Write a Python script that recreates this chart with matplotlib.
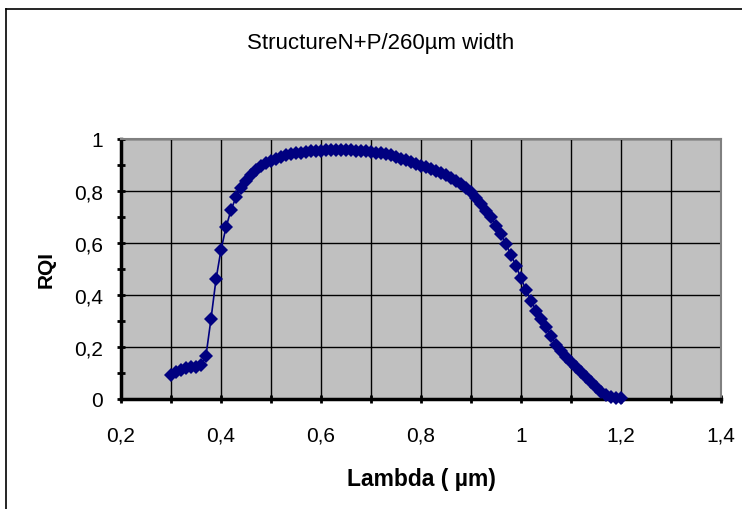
import numpy as np
import matplotlib
matplotlib.use('Agg')
import matplotlib.pyplot as plt
from matplotlib.ticker import MultipleLocator, FuncFormatter
from matplotlib.lines import Line2D

# wavelength (um) and RQI values
lam = [0.30, 0.31, 0.32, 0.33, 0.34, 0.35, 0.36, 0.37, 0.38, 0.39,
       0.40, 0.41, 0.42, 0.43, 0.44, 0.45, 0.46, 0.47, 0.48, 0.49,
       0.50, 0.51, 0.52, 0.53, 0.54, 0.55, 0.56, 0.57, 0.58, 0.59,
       0.60, 0.61, 0.62, 0.63, 0.64, 0.65, 0.66, 0.67, 0.68, 0.69,
       0.70, 0.71, 0.72, 0.73, 0.74, 0.75, 0.76, 0.77, 0.78, 0.79,
       0.80, 0.81, 0.82, 0.83, 0.84, 0.85, 0.86, 0.87, 0.88, 0.89,
       0.90, 0.91, 0.92, 0.93, 0.94, 0.95, 0.96, 0.97, 0.98, 0.99,
       1.00, 1.01, 1.02, 1.03, 1.04, 1.05, 1.06, 1.07, 1.08, 1.09,
       1.10, 1.11, 1.12, 1.13, 1.14, 1.15, 1.16, 1.17, 1.18, 1.19,
       1.20]
rqi = [0.092, 0.105, 0.113, 0.118, 0.122, 0.125, 0.130, 0.167, 0.308, 0.460,
       0.574, 0.660, 0.727, 0.776, 0.810, 0.838, 0.862, 0.880, 0.895, 0.907,
       0.917, 0.925, 0.931, 0.937, 0.941, 0.945, 0.948, 0.950, 0.952, 0.954,
       0.955, 0.956, 0.956, 0.956, 0.956, 0.956, 0.956, 0.955, 0.955, 0.953,
       0.951, 0.948, 0.945, 0.941, 0.937, 0.931, 0.925, 0.918, 0.912, 0.905,
       0.898, 0.892, 0.886, 0.878, 0.870, 0.862, 0.851, 0.839, 0.826, 0.812,
       0.795, 0.773, 0.750, 0.725, 0.700, 0.667, 0.633, 0.595, 0.554, 0.512,
       0.464, 0.419, 0.378, 0.340, 0.308, 0.276, 0.244, 0.207, 0.183, 0.162,
       0.142, 0.123, 0.103, 0.084, 0.065, 0.047, 0.028, 0.014, 0.006, 0.003,
       0.002]

title = 'StructureN+P/260µm width'
xlabel = 'Lambda ( µm)'
ylabel = 'RQI'

plt.rcParams['font.family'] = ['Liberation Sans', 'DejaVu Sans']

fig = plt.figure(figsize=(7.42, 5.10), dpi=100)
ax = fig.add_axes([121 / 742, 110 / 510, 600 / 742, 260 / 510])
ax.set_facecolor('#C0C0C0')

ax.plot(lam, rqi, color='#000080', linewidth=1.2, marker='D',
        markersize=7, markeredgewidth=0, zorder=3, clip_on=False)

ax.set_xlim(0.2, 1.4)
ax.set_ylim(0, 1)
ax.xaxis.set_major_locator(MultipleLocator(0.2))
ax.xaxis.set_minor_locator(MultipleLocator(0.1))
ax.yaxis.set_major_locator(MultipleLocator(0.2))
ax.yaxis.set_minor_locator(MultipleLocator(0.1))

comma = FuncFormatter(lambda v, p: ('%g' % round(v, 2)).replace('.', ','))
ax.xaxis.set_major_formatter(comma)
ax.yaxis.set_major_formatter(comma)

ax.grid(True, which='both', axis='x', color='black', linewidth=1.0)
ax.grid(True, which='major', axis='y', color='black', linewidth=1.0)
ax.set_axisbelow(True)

ax.tick_params(which='both', direction='inout', width=2, length=6,
               labelsize=15, colors='black')
ax.tick_params(axis='x', pad=27)
ax.tick_params(axis='y', pad=10)
# keep all x labels on one baseline ("1" has no comma)
for lbl in ax.get_xticklabels():
    lbl.set_verticalalignment('baseline')

for side in ['left', 'bottom']:
    ax.spines[side].set_linewidth(2.5)
    ax.spines[side].set_color('black')
for side in ['top', 'right']:
    ax.spines[side].set_linewidth(1.5)
    ax.spines[side].set_color('#808080')

ax.set_xlabel(xlabel, fontsize=16.5, fontweight='bold', labelpad=16)
ax.set_ylabel(ylabel, fontsize=15, fontweight='bold', labelpad=13)

fig.text(381 / 742, 1 - 44 / 510, title, ha='center', va='center', fontsize=16)

# outer chart frame (left and top edges visible)
fig.add_artist(Line2D([6 / 742, 6 / 742], [0, 1 - 10 / 510], color='black', linewidth=1.2))
fig.add_artist(Line2D([6 / 742, 1], [1 - 10 / 510, 1 - 10 / 510], color='black', linewidth=1.2))

fig.savefig('out.png', dpi=100)
